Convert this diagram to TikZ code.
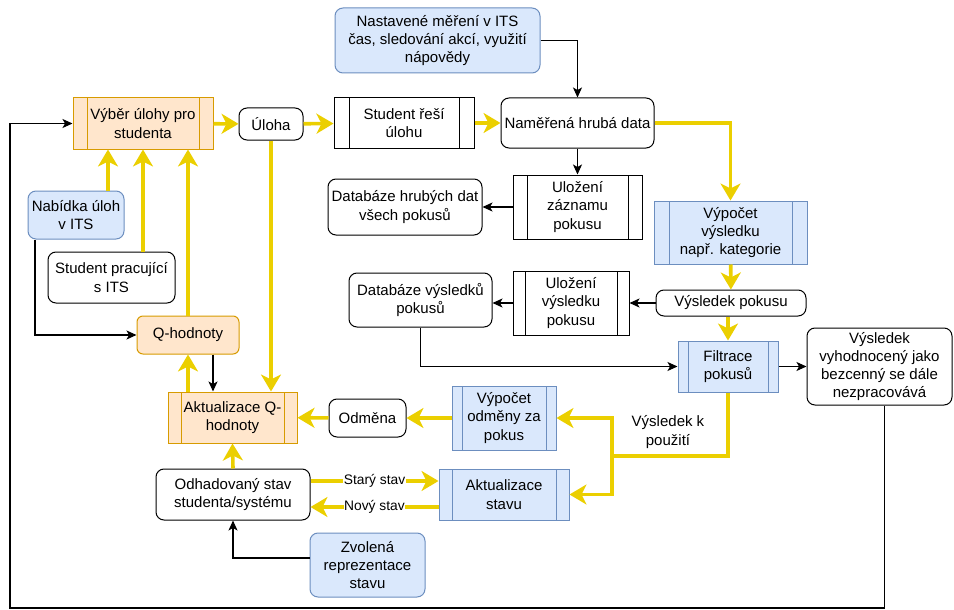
\documentclass[tikz,border=0pt]{standalone}
\usepackage{fontspec}
\setmainfont{Liberation Sans}
\usetikzlibrary{arrows.meta,positioning}
\definecolor{orangefill}{HTML}{FFE6CC}
\definecolor{orangeline}{HTML}{D79B00}
\definecolor{bluefill}{HTML}{DAE8FC}
\definecolor{blueline}{HTML}{6C8EBF}
\definecolor{yellowline}{RGB}{235,207,0}
\begin{document}
\begin{tikzpicture}[x=1pt,y=-1pt,
  every node/.style={font=\fontsize{15}{18.3}\selectfont, align=center, inner sep=1pt},
  wh/.style 2 args={minimum width=#1pt, minimum height=#2pt},
  rbox/.style={draw=black, fill=white, line width=1pt, rounded corners=8pt},
  bluebox/.style={rbox, draw=blueline, fill=bluefill},
  orangebox/.style={rbox, draw=orangeline, fill=orangefill},
  proc/.style 2 args={rectangle, draw=#1, line width=1pt,
    path picture={\draw[#1, line width=0.8pt]
      ([xshift=#2pt]path picture bounding box.north west) -- ([xshift=#2pt]path picture bounding box.south west)
      ([xshift=-#2pt]path picture bounding box.north east) -- ([xshift=-#2pt]path picture bounding box.south east);}},
  wproc/.style={proc={black}{#1}, fill=white},
  bproc/.style={proc={blueline}{#1}, fill=bluefill},
  oproc/.style={proc={orangeline}{#1}, fill=orangefill},
  flow/.style={draw=yellowline, line width=3.6pt, -{Stealth[length=17pt,width=20pt,inset=5pt]}},
  ctrl/.style={draw=black, line width=1.1pt, -{Stealth[length=10pt,width=9pt,inset=2.5pt]}},
  lbl/.style={font=\fontsize{13.8}{16}\selectfont, fill=white, inner sep=0.5pt}]
\useasboundingbox (0,0) rectangle (954,610);

\node[oproc=14, wh={140}{51}] (vyber) at (143,123.5) {V\'yb\v{e}r \'ulohy pro\\studenta};
\node[rbox, wh={64}{32}] (uloha) at (271,124) {\'Uloha};
\node[wproc=15, wh={140}{50}] (resi) at (404,123) {Student \v{r}e\v{s}\'i\\\'ulohu};
\node[rbox, wh={153}{50}] (namer) at (577.5,123) {Nam\v{e}\v{r}en\'a hrub\'a data};
\node[bluebox, wh={205}{65}] (nastav) at (437.5,40.5) {Nastaven\'e m\v{e}\v{r}en\'i v ITS\\\v{c}as, sledov\'an\'i akc\'i, vyu\v{z}it\'i\\n\'apov\v{e}dy};
\node[wproc=14, wh={129}{64}] (ulzaz) at (577.5,207) {Ulo\v{z}en\'i\\z\'aznamu\\pokusu};
\node[rbox, wh={154}{56}] (dbhrub) at (405,207) {Datab\'aze hrub\'ych dat\\v\v{s}ech pokus\r{u}};
\node[bproc=15, wh={153}{63}] (vypvys) at (730.5,232.5) {V\'ypo\v{c}et\\v\'ysledku\\nap\v{r}. kategorie};
\node[rbox, wh={150}{26}] (vyspok) at (731,303) {V\'ysledek pokusu};
\node[wproc=12, wh={116}{64}] (ulvys) at (571,303) {Ulo\v{z}en\'i\\v\'ysledku\\pokusu};
\node[rbox, wh={143}{54}] (dbvys) at (420.5,300) {Datab\'aze v\'ysledk\r{u}\\pokus\r{u}};
\node[bproc=10, wh={100}{51}] (filtr) at (728,366.5) {Filtrace\\pokus\r{u}};
\node[rbox, wh={145}{77}] (bezc) at (879.5,366.5) {V\'ysledek\\vyhodnocen\'y jako\\bezcenn\'y se d\'ale\\nezpracov\'av\'a};
\node[bproc=10, wh={104}{64}] (vypodm) at (504,418) {V\'ypo\v{c}et\\odm\v{e}ny za\\pokus};
\node[rbox, wh={77}{38}] (odmena) at (367.5,418) {Odm\v{e}na};
\node[oproc=13, wh={129}{51}] (aktq) at (232.5,417.5) {Aktualizace Q-\\hodnoty};
\node[rbox, wh={154}{51}] (odhad) at (233,494.5) {Odhadovan\'y stav\\studenta/syst\'emu};
\node[bproc=13, wh={130}{51}] (aktst) at (504,494.5) {Aktualizace\\stavu};
\node[bluebox, wh={115}{64}] (zvol) at (367.5,565) {Zvolen\'a\\reprezentace\\stavu};
\node[orangebox, rounded corners=6pt, wh={102}{38}] (qhod) at (188,335) {Q-hodnoty};
\node[bluebox, wh={96}{48}] (nabid) at (76,215) {Nab\'idka \'uloh\\v ITS};
\node[rbox, wh={127}{51}] (stprac) at (111.5,277.5) {Student pracuj\'ic\'i\\s ITS};
\node (kpouz) at (668,432) {V\'ysledek k\\pou\v{z}it\'i};

\coordinate (split) at (612,456);
\coordinate (loop) at (10,608);

\draw[flow] (vyber) -- (uloha);
\draw[flow] (uloha) -- (resi);
\draw[flow] (resi) -- (namer);
\draw[flow] (namer.east) -| (vypvys.north);
\draw[flow] (vypvys) -- (vyspok);
\draw[flow] (filtr.north |- vyspok.south) -- (filtr.north);
\draw[flow, -] (filtr.south) |- (split);
\draw[flow] (split) |- (vypodm.east);
\draw[flow] (split) |- (aktst.east);
\draw[flow] (vypodm) -- (odmena);
\draw[flow] (odmena) -- (aktq);
\draw[flow] (odhad.north) -- (aktq.south);
\draw[flow] ([yshift=13.5pt]odhad.east) -- node[lbl] {Star\'y stav} ([yshift=13.5pt]odhad.east -| aktst.west);
\draw[flow] ([yshift=-12.5pt]odhad.east -| aktst.west) -- node[lbl] {Nov\'y stav} ([yshift=-12.5pt]odhad.east);
\draw[flow] (aktq.north -| qhod.south) -- (qhod.south);
\draw[flow] (qhod.north) -- (qhod.north |- vyber.south);
\draw[flow] (stprac.north -| vyber.south) -- (vyber.south);
\draw[flow] ([xshift=32pt]nabid.north) -- ([xshift=32pt]nabid.north |- vyber.south);
\draw[flow] (uloha.south) -- (uloha.south |- aktq.north);

\draw[ctrl] (nastav.east) -| (namer.north);
\draw[ctrl] (namer) -- (ulzaz);
\draw[ctrl] (ulzaz) -- (dbhrub);
\draw[ctrl] (vyspok) -- (ulvys);
\draw[ctrl] (ulvys.west) -- (ulvys.west -| dbvys.east);
\draw[ctrl] (dbvys.south) |- (filtr.west);
\draw[ctrl] (filtr) -- (bezc);
\draw[ctrl] ([xshift=5pt]bezc.south) |- (loop) |- (vyber.west);
\draw[ctrl] ([xshift=-41pt]nabid.south) |- (qhod.west);
\draw[ctrl] ([xshift=25pt]qhod.south) -- ([xshift=25pt]qhod.south |- aktq.north);
\draw[ctrl] ([yshift=7pt]zvol.west) -| (odhad.south);
\end{tikzpicture}
\end{document}
